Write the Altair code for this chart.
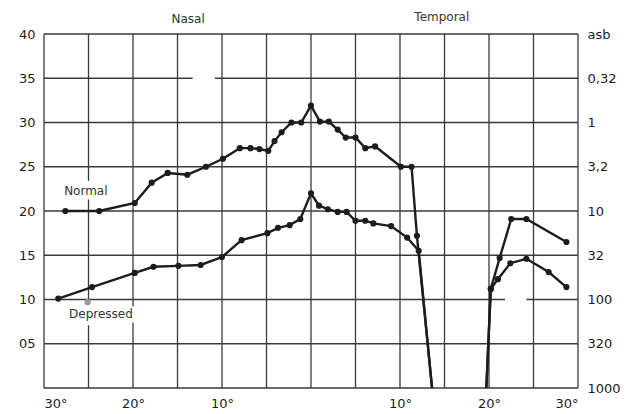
import altair as alt
import pandas as pd

# ---- data ----
normal_nasal_x = [-27.6, -23.8, -19.8, -17.9, -16.1, -13.9, -11.8, -9.9, -8.0, -6.8, -5.8, -4.8,
                  -4.1, -3.3, -2.2, -1.1, 0.0, 1.0, 2.0, 3.0, 3.9, 5.0, 6.1, 7.2, 10.1, 11.3, 11.9]
normal_nasal_y = [20.0, 20.0, 20.9, 23.2, 24.3, 24.1, 25.0, 25.9, 27.1, 27.1, 27.0, 26.8,
                  27.9, 28.9, 30.0, 30.0, 31.9, 30.1, 30.1, 29.2, 28.3, 28.3, 27.1, 27.3, 25.0, 25.0, 17.2]
depressed_nasal_x = [-28.4, -24.6, -19.8, -17.7, -14.9, -12.4, -10.0, -7.8, -4.9, -3.7, -2.4, -1.2,
                     0.0, 0.9, 1.9, 3.0, 4.0, 5.0, 6.1, 7.0, 9.0, 10.8, 12.1]
depressed_nasal_y = [10.1, 11.4, 13.0, 13.7, 13.8, 13.9, 14.8, 16.7, 17.5, 18.1, 18.4, 19.1,
                     22.0, 20.6, 20.2, 19.9, 19.9, 18.9, 18.9, 18.6, 18.3, 17.0, 15.5]
blind_spot_start = [13.6, 0.0]   # lines fall to the bottom here
blind_spot_end = [19.7, 0.0]     # lines rise from the bottom here
normal_temporal_x = [20.2, 21.2, 22.5, 24.2, 28.7]
normal_temporal_y = [11.2, 14.7, 19.1, 19.1, 16.5]
depressed_temporal_x = [20.2, 21.0, 22.4, 24.2, 26.7, 28.7]
depressed_temporal_y = [11.2, 12.3, 14.1, 14.6, 13.1, 11.4]

stray_point = [-25.1, 9.7]

x_tick_values = [-30, -20, -10, 10, 20, 30]
x_tick_labels = ["30°", "20°", "10°", "10°", "20°", "30°"]
left_tick_values = [5, 10, 15, 20, 25, 30, 35, 40]
left_tick_labels = ["05", "10", "15", "20", "25", "30", "35", "40"]
right_tick_values = [0, 5, 10, 15, 20, 25, 30, 35, 40]
right_tick_labels = ["1000", "320", "100", "32", "10", "3,2", "1", "0,32", "asb"]

h_levels = [0, 5, 10, 15, 20, 25, 30, 35, 40]
h_gaps = {35: [(-13.3, -10.8)], 10: [(21.8, 24.2)]}
v_levels = [-30, -25, -20, -15, -10, -5, 0, 5, 10, 15, 20, 25, 30]
v_gaps = {-25: [(7.1, 9.8), (21.3, 23.4)], -20: [(7.4, 9.2)]}

labels_text = ["Normal", "Depressed"]
labels_x = [-25.3, -23.6]
labels_y = [22.3, 8.4]
header_text = ["Nasal", "Temporal"]
header_x = [-13.8, 14.7]
header_y = [41.7, 41.9]

# ---- build tables ----
rows = []
def add(series, seg, xs, ys, marker=True):
    for x, y in zip(xs, ys):
        rows.append(dict(series=series, seg=f"{series}-{seg}", x=x, y=y, marker=marker, order=len(rows)))

add("Normal", "n", normal_nasal_x, normal_nasal_y)
add("Normal", "n", [blind_spot_start[0]], [blind_spot_start[1]], marker=False)
add("Normal", "t", [blind_spot_end[0]], [blind_spot_end[1]], marker=False)
add("Normal", "t", normal_temporal_x, normal_temporal_y)
add("Depressed", "n", depressed_nasal_x, depressed_nasal_y)
add("Depressed", "n", [blind_spot_start[0]], [blind_spot_start[1]], marker=False)
add("Depressed", "t", [blind_spot_end[0]], [blind_spot_end[1]], marker=False)
add("Depressed", "t", depressed_temporal_x, depressed_temporal_y)
df = pd.DataFrame(rows)

def split(lo, hi, gaps):
    segs, cur = [], lo
    for a, b in sorted(gaps):
        segs.append((cur, a))
        cur = b
    segs.append((cur, hi))
    return segs

hrows = []
for lvl in h_levels:
    for a, b in split(-30, 30, h_gaps.get(lvl, [])):
        hrows.append(dict(y=lvl, x=a, x2=b))
vrows = []
for lvl in v_levels:
    for a, b in split(0, 40, v_gaps.get(lvl, [])):
        vrows.append(dict(x=lvl, y=a, y2=b))
hdf = pd.DataFrame(hrows)
vdf = pd.DataFrame(vrows)

def label_expr(values, labels):
    expr = "''"
    for v, l in reversed(list(zip(values, labels))):
        expr = f"datum.value == {v} ? '{l}' : ({expr})"
    return expr

FONT = "DejaVu Sans"
INK = "#1c1c1c"
GRID = "#3a3a3a"

xscale = alt.Scale(domain=[-30, 30], nice=False, zero=False)
yscale = alt.Scale(domain=[0, 40], nice=False, zero=False)

xaxis = alt.Axis(values=x_tick_values, labelExpr=label_expr(x_tick_values, x_tick_labels),
                 grid=False, ticks=False, domain=False, title=None, labelFont=FONT,
                 labelFontSize=13, labelColor=INK, labelPadding=9)
yaxis_left = alt.Axis(values=left_tick_values, labelExpr=label_expr(left_tick_values, left_tick_labels),
                      grid=False, ticks=False, domain=False, title=None, labelFont=FONT,
                      labelFontSize=13, labelColor=INK, labelPadding=9)
yaxis_right = alt.Axis(orient="right", values=right_tick_values,
                       labelExpr=label_expr(right_tick_values, right_tick_labels),
                       grid=False, ticks=False, domain=False, title=None, labelFont=FONT,
                       labelFontSize=13, labelColor=INK, labelPadding=9)

X = alt.X("x:Q", scale=xscale, axis=xaxis, title=None)
Y = alt.Y("y:Q", scale=yscale, axis=yaxis_left, title=None)

hgrid = alt.Chart(hdf).mark_rule(color=GRID, strokeWidth=1.3).encode(x=X, x2="x2:Q", y=Y)
vgrid = alt.Chart(vdf).mark_rule(color=GRID, strokeWidth=1.3).encode(x=X, y=Y, y2="y2:Q")
lines = alt.Chart(df).mark_line(color=INK, strokeWidth=2.4).encode(
    x=X, y=Y, detail="seg:N", order="order:Q")
points = alt.Chart(df).transform_filter("datum.marker").mark_circle(
    color=INK, size=38, opacity=1).encode(x=X, y=Y)
stray = alt.Chart(pd.DataFrame({"x": [stray_point[0]], "y": [stray_point[1]]})).mark_circle(
    color="#9a9a9a", size=40, opacity=1).encode(x=X, y=Y)
labels = alt.Chart(pd.DataFrame({"t": labels_text, "x": labels_x, "y": labels_y})).mark_text(
    font=FONT, fontSize=12, color="#333333").encode(x=X, y=Y, text="t:N")
headers = alt.Chart(pd.DataFrame({"t": header_text, "x": header_x, "y": header_y})).mark_text(
    font=FONT, fontSize=12, color="#333333", clip=False).encode(x=X, y=Y, text="t:N")

main = alt.layer(hgrid, vgrid, lines, points, stray, labels, headers)

right_axis = alt.Chart(pd.DataFrame({"y": [0, 40]})).mark_point(opacity=0).encode(
    y=alt.Y("y:Q", scale=yscale, axis=yaxis_right, title=None))

chart = alt.layer(main, right_axis).resolve_scale(
    y="independent"
).properties(
    width=534, height=354,
    autosize=alt.AutoSizeParams(type="none"),
    padding={"left": 44, "top": 34, "right": 53, "bottom": 26},
    background="white",
).configure_view(stroke=None)

chart.save("out.html", embed_options={"renderer": "svg", "actions": False})
